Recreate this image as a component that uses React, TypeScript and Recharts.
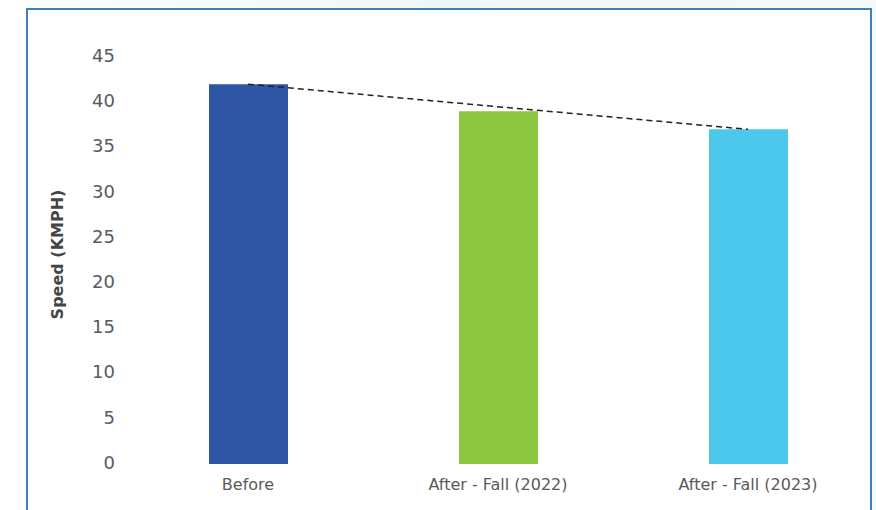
import { ComposedChart, Bar, Line, XAxis, YAxis, Cell } from "recharts";

const periods = ["Before", "After - Fall (2022)", "After - Fall (2023)"];
const speeds = [42, 39, 37];
const trend = [42, null, 37];
const barColors = ["#2f55a5", "#8cc540", "#4cc8ec"];
const yTicks = [0, 5, 10, 15, 20, 25, 30, 35, 40, 45];

const data = periods.map((name, i) => ({
  name,
  speed: speeds[i],
  trend: trend[i],
}));

const font = "'DejaVu Sans', sans-serif";

const App = () => {
  return (
    <div
      style={{
        position: "fixed",
        top: 0,
        left: 0,
        width: 876,
        height: 510,
        background: "linear-gradient(90deg, #ffffff 0%, #eef7fb 50%, #f4f9fc 100%)",
        overflow: "hidden",
      }}
    >
      <div
        style={{
          position: "absolute",
          left: 26,
          top: 8,
          width: 842,
          height: 520,
          background: "#fff",
          border: "2px solid #3f7fbf",
        }}
      />
      <div style={{ position: "absolute", left: 0, top: 0 }}>
        <ComposedChart
          width={876}
          height={510}
          data={data}
          margin={{ top: 57, right: 3, bottom: 0, left: 0 }}
        >
          <XAxis
            dataKey="name"
            axisLine={false}
            tickLine={false}
            height={46}
            tickMargin={9}
            tick={{ fill: "#5a5a5a", fontSize: 16, fontFamily: font }}
          />
          <YAxis
            domain={[0, 45]}
            ticks={yTicks}
            width={123}
            axisLine={false}
            tickLine={false}
            tickMargin={2}
            tick={{ fill: "#5a5a5a", fontSize: 18, fontFamily: font, dy: -1.5 }}
            label={{
              value: "Speed (KMPH)",
              angle: -90,
              position: "insideLeft",
              offset: 57,
              dy: -6,
              style: {
                textAnchor: "middle",
                fill: "#444",
                fontSize: 16,
                fontWeight: 700,
                fontFamily: font,
              },
            }}
          />
          <Bar dataKey="speed" barSize={79} isAnimationActive={false}>
            {data.map((d, i) => (
              <Cell key={d.name} fill={barColors[i]} />
            ))}
          </Bar>
          <Line
            dataKey="trend"
            connectNulls
            stroke="#222"
            strokeWidth={1.5}
            strokeDasharray="6 4"
            dot={false}
            activeDot={false}
            isAnimationActive={false}
          />
        </ComposedChart>
      </div>
    </div>
  );
};

export default App;
